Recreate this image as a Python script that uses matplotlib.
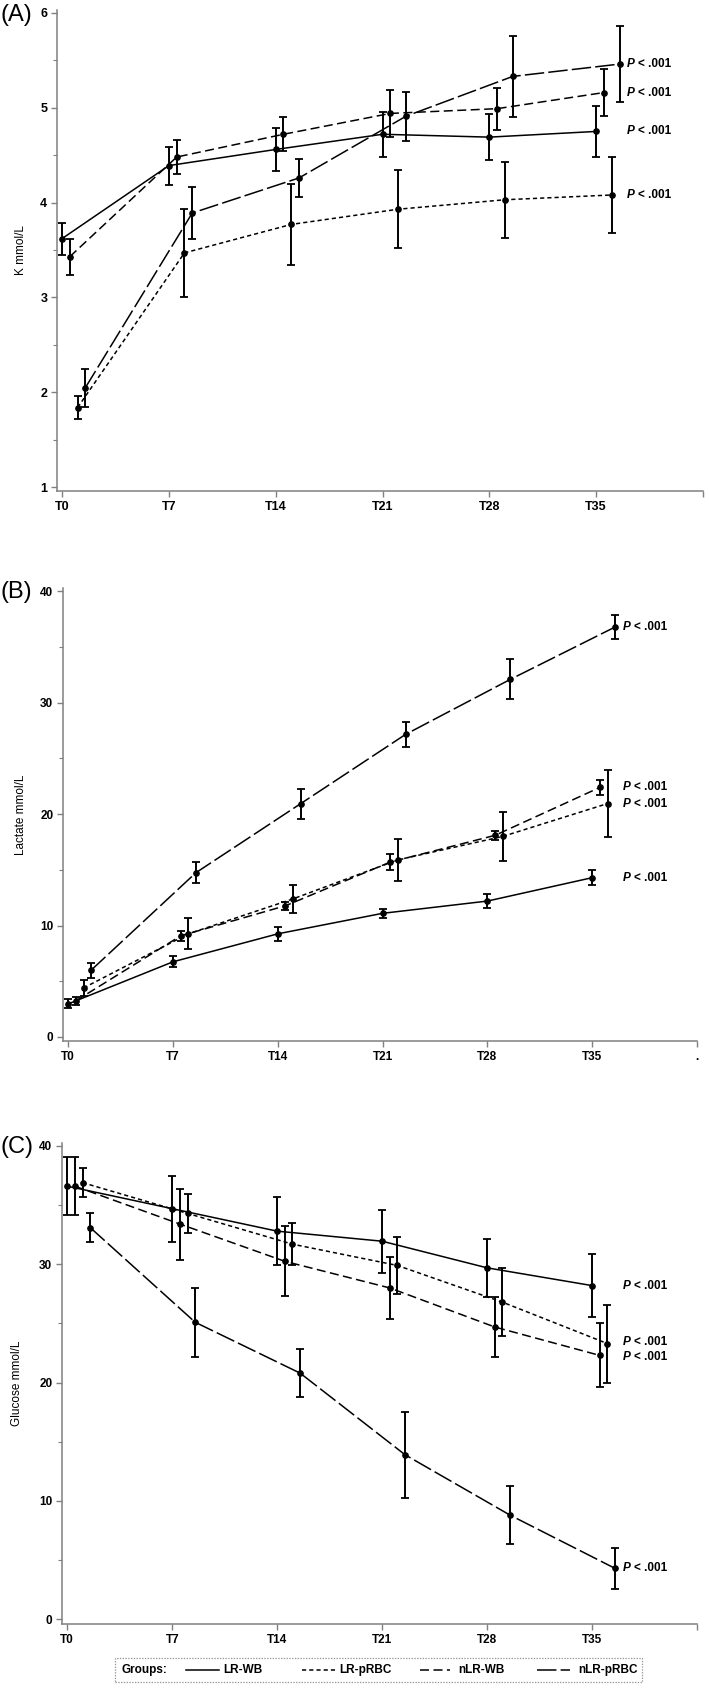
import matplotlib
matplotlib.use('Agg')
import matplotlib.pyplot as plt
import numpy as np
from matplotlib.lines import Line2D
from matplotlib.patches import Rectangle
from matplotlib.ticker import MultipleLocator

plt.rcParams['font.family'] = ['Liberation Sans', 'DejaVu Sans']
plt.rcParams['lines.scale_dashes'] = False

timepoints = ['T0', 'T7', 'T14', 'T21', 'T28', 'T35']
groups = ['LR-WB', 'LR-pRBC', 'nLR-WB', 'nLR-pRBC']

# Panel A: Potassium (mmol/L)
k_lr_wb = [3.62, 4.39, 4.56, 4.72, 4.69, 4.75]
k_lr_wb_err = [0.17, 0.20, 0.23, 0.24, 0.24, 0.27]
k_lr_prbc = [1.84, 3.47, 3.77, 3.93, 4.03, 4.08]
k_lr_prbc_err = [0.12, 0.46, 0.43, 0.41, 0.40, 0.40]
k_nlr_wb = [3.43, 4.48, 4.72, 4.94, 4.99, 5.16]
k_nlr_wb_err = [0.19, 0.18, 0.18, 0.25, 0.22, 0.25]
k_nlr_prbc = [2.05, 3.89, 4.26, 4.91, 5.33, 5.46]
k_nlr_prbc_err = [0.20, 0.27, 0.20, 0.26, 0.43, 0.40]

# Panel B: Lactate (mmol/L)
lac_lr_wb = [2.97, 6.75, 9.26, 11.1, 12.2, 14.3]
lac_lr_wb_err = [0.40, 0.50, 0.65, 0.40, 0.60, 0.70]
lac_lr_prbc = [4.4, 9.26, 12.4, 15.9, 18.0, 20.95]
lac_lr_prbc_err = [0.70, 1.40, 1.25, 1.90, 2.20, 3.00]
lac_nlr_wb = [3.25, 9.08, 11.78, 15.7, 18.1, 22.4]
lac_nlr_wb_err = [0.35, 0.45, 0.37, 0.70, 0.40, 0.70]
lac_nlr_prbc = [6.0, 14.75, 20.95, 27.16, 32.1, 36.8]
lac_nlr_prbc_err = [0.67, 0.95, 1.35, 1.10, 1.80, 1.05]

# Panel C: Glucose (mmol/L)
glu_lr_wb = [36.6, 34.7, 32.8, 31.95, 29.7, 28.2]
glu_lr_wb_err = [2.45, 2.80, 2.85, 2.65, 2.45, 2.65]
glu_lr_prbc = [36.9, 34.3, 31.7, 29.9, 26.8, 23.3]
glu_lr_prbc_err = [1.20, 1.65, 1.75, 2.40, 2.85, 3.30]
glu_nlr_wb = [36.6, 33.4, 30.25, 28.0, 24.7, 22.3]
glu_nlr_wb_err = [2.45, 3.00, 2.95, 2.60, 2.50, 2.70]
glu_nlr_prbc = [33.1, 25.1, 20.8, 13.9, 8.8, 4.3]
glu_nlr_prbc_err = [1.20, 2.90, 2.05, 3.65, 2.45, 1.70]

p_text = '< .001'

# styles
dash_styles = {
    'LR-WB': '-',
    'LR-pRBC': (0, (3.0, 2.2)),
    'nLR-WB': (0, (6.5, 3.2)),
    'nLR-pRBC': (0, (14.0, 3.0)),
}
x_offset_rank = {'LR-WB': 0, 'nLR-WB': 1, 'LR-pRBC': 2, 'nLR-pRBC': 3}
offset_step = 0.073

W, H = 709, 1689
fig = plt.figure(figsize=(W / 100, H / 100), dpi=100)

GRAY = '#808080'


def px_axes(left, right, top, bottom):
    return fig.add_axes([left / W, 1 - bottom / H, (right - left) / W, (bottom - top) / H])


panels = [
    dict(ax=px_axes(57, 703, 10, 491), xl=-0.047, yl=(0.96, 6.03),
         series={'LR-WB': (k_lr_wb, k_lr_wb_err), 'LR-pRBC': (k_lr_prbc, k_lr_prbc_err),
                 'nLR-WB': (k_nlr_wb, k_nlr_wb_err), 'nLR-pRBC': (k_nlr_prbc, k_nlr_prbc_err)},
         major=1, minor=0.5, ylabel='K mmol/L', letter='(A)', letter_y=15, last='',
         tick_fs=9, labx=-0.046),
    dict(ax=px_axes(63, 697, 588, 1041), xl=-0.05, yl=(-0.36, 40.3),
         series={'LR-WB': (lac_lr_wb, lac_lr_wb_err), 'LR-pRBC': (lac_lr_prbc, lac_lr_prbc_err),
                 'nLR-WB': (lac_nlr_wb, lac_nlr_wb_err), 'nLR-pRBC': (lac_nlr_prbc, lac_nlr_prbc_err)},
         major=10, minor=5, ylabel='Lactate mmol/L', letter='(B)', letter_y=592, last='.',
         tick_fs=8.5, labx=-0.057),
    dict(ax=px_axes(62, 697, 1143, 1624), xl=-0.05, yl=(-0.4, 40.25),
         series={'LR-WB': (glu_lr_wb, glu_lr_wb_err), 'LR-pRBC': (glu_lr_prbc, glu_lr_prbc_err),
                 'nLR-WB': (glu_nlr_wb, glu_nlr_wb_err), 'nLR-pRBC': (glu_nlr_prbc, glu_nlr_prbc_err)},
         major=10, minor=5, ylabel='Glucose mmol/L', letter='(C)', letter_y=1147, last='',
         tick_fs=8.5, labx=-0.061),
]

xbase = np.arange(len(timepoints))

for p in panels:
    ax = p['ax']
    last_vals = []
    for g in groups:
        vals, errs = p['series'][g]
        x = xbase + x_offset_rank[g] * offset_step
        ax.errorbar(x, vals, yerr=errs, fmt='none', ecolor='black', elinewidth=1.4,
                    capsize=2.6, capthick=1.3, zorder=3)
        ax.plot(x, vals, color='black', lw=1.1, ls=dash_styles[g], marker='o', ms=3.8,
                markerfacecolor='black', markeredgecolor='black', zorder=4)
        last_vals.append(vals[-1])

    ax.set_xlim(p['xl'], len(timepoints))
    ax.set_ylim(*p['yl'])
    ax.set_xticks(list(xbase) + [len(timepoints)])
    ax.set_xticklabels(timepoints + [p['last']], fontsize=p['tick_fs'], fontweight='bold')
    ax.yaxis.set_major_locator(MultipleLocator(p['major']))
    ax.yaxis.set_minor_locator(MultipleLocator(p['minor']))
    for lab in ax.get_yticklabels():
        lab.set_fontsize(p['tick_fs'])
        lab.set_fontweight('bold')
    ax.tick_params(axis='both', which='major', length=4, width=1, color=GRAY, pad=3)
    ax.tick_params(axis='y', which='minor', length=3, width=0.8, color=GRAY)
    for s in ['top', 'right']:
        ax.spines[s].set_visible(False)
    for s in ['left', 'bottom']:
        ax.spines[s].set_color(GRAY)
        ax.spines[s].set_linewidth(1.1)
    ax.set_ylabel(p['ylabel'], fontsize=8.5)
    ax.yaxis.set_label_coords(p['labx'], 0.5)
    fig.text(0.0, 1 - p['letter_y'] / H, p['letter'], fontsize=17, ha='left', va='center')

    # P-value labels at the end of each series, de-overlapped
    y0, y1 = p['yl']
    min_gap = (y1 - y0) * 15 / (ax.get_position().height * H)
    order = np.argsort(last_vals)
    ys = np.array(last_vals, dtype=float)[order]
    for _ in range(50):
        for i in range(1, len(ys)):
            gap = ys[i] - ys[i - 1]
            if gap < min_gap:
                d = (min_gap - gap) / 2
                ys[i] += d
                ys[i - 1] -= d
    xp = len(timepoints) - 1 + 0.29
    for yv in ys:
        ax.annotate('P', xy=(xp, yv), xycoords='data', fontsize=8.5, fontweight='bold',
                    fontstyle='italic', ha='left', va='center')
        ax.annotate(p_text, xy=(xp, yv), xycoords='data', xytext=(8, 0),
                    textcoords='offset points', fontsize=8.5, fontweight='bold',
                    ha='left', va='center')

# Legend
lax = px_axes(115, 642, 1658, 1682)
lax.set_xlim(0, 1)
lax.set_ylim(0, 1)
lax.axis('off')
lax.add_patch(Rectangle((0, 0), 1, 1, transform=lax.transAxes, fill=False,
                        edgecolor='#999999', lw=0.9, ls=(0, (1, 1)), clip_on=False))
lax.text(0.013, 0.5, 'Groups:', fontsize=8.5, fontweight='bold', ha='left', va='center')
leg_pos = {'LR-WB': (0.135, 0.197, 0.205), 'LR-pRBC': (0.355, 0.417, 0.425),
           'nLR-WB': (0.579, 0.636, 0.651), 'nLR-pRBC': (0.801, 0.863, 0.879)}
for g in groups:
    a, b, t = leg_pos[g]
    lax.add_line(Line2D([a, b], [0.5, 0.5], color='black', lw=1.1, ls=dash_styles[g]))
    lax.text(t, 0.5, g, fontsize=8.5, fontweight='bold', ha='left', va='center')

fig.savefig('out.png', dpi=100)
